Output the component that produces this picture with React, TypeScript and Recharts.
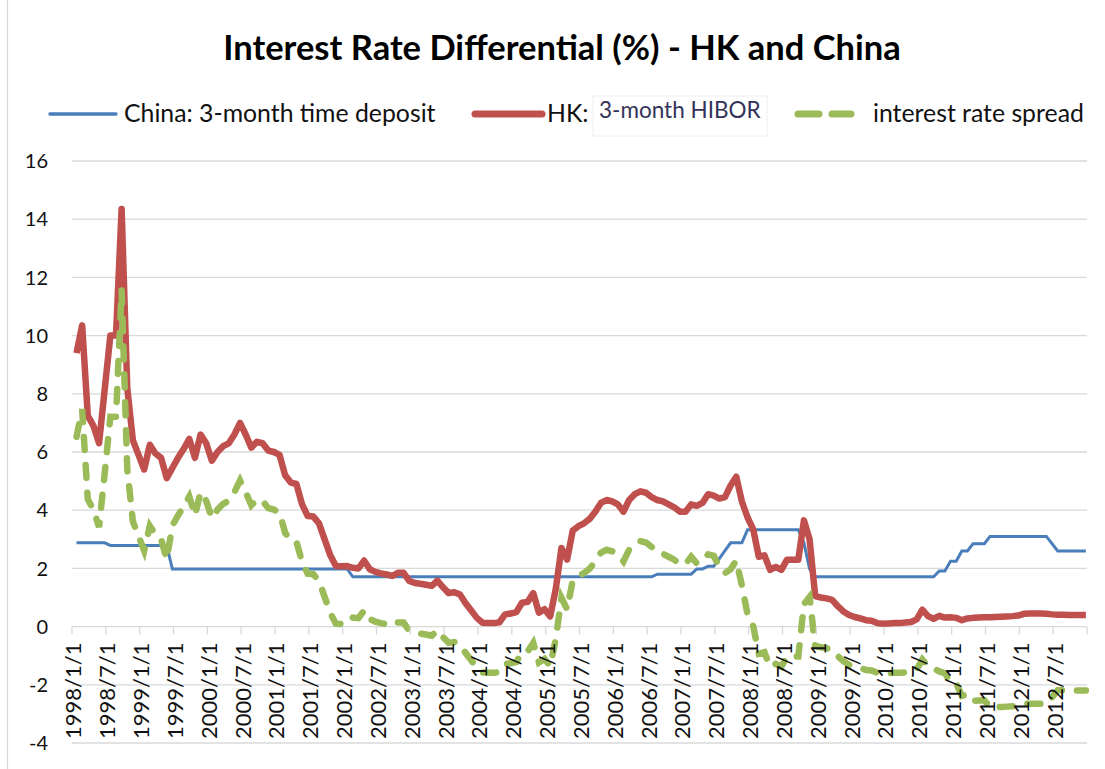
import { LineChart, Line, XAxis, YAxis, CartesianGrid } from "recharts"

const W = 1105
const H = 769
const MARGIN = { top: 161, right: 18, bottom: 0, left: 12 }
const X_AXIS_H = 26
const Y_AXIS_W = 60
const Y_MIN = -4
const Y_MAX = 16
const PLOT_H = H - MARGIN.top - MARGIN.bottom - X_AXIS_H
const FONT = "Lato, 'Open Sans', sans-serif"

const tickLabels = [
  "1998/1/1", "1998/7/1", "1999/1/1", "1999/7/1", "2000/1/1", "2000/7/1",
  "2001/1/1", "2001/7/1", "2002/1/1", "2002/7/1", "2003/1/1", "2003/7/1",
  "2004/1/1", "2004/7/1", "2005/1/1", "2005/7/1", "2006/1/1", "2006/7/1",
  "2007/1/1", "2007/7/1", "2008/1/1", "2008/7/1", "2009/1/1", "2009/7/1",
  "2010/1/1", "2010/7/1", "2011/1/1", "2011/7/1", "2012/1/1", "2012/7/1",
]

const yTicks = [-4, -2, 0, 2, 4, 6, 8, 10, 12, 14, 16]
const xTicks = [0, 6, 12, 18, 24, 30, 36, 42, 48, 54, 60, 66, 72, 78, 84, 90, 96, 102, 108, 114, 120, 126, 132, 138, 144, 150, 156, 162, 168, 174, 180]

// China: 3-month time deposit, monthly 1998/1 .. 2012/12
const china = [
  2.88, 2.88, 2.88, 2.88, 2.88, 2.88, 2.79, 2.79, 2.79, 2.79, 2.79, 2.79,
  2.79, 2.79, 2.79, 2.79, 2.79, 1.98, 1.98, 1.98, 1.98, 1.98, 1.98, 1.98,
  1.98, 1.98, 1.98, 1.98, 1.98, 1.98, 1.98, 1.98, 1.98, 1.98, 1.98, 1.98,
  1.98, 1.98, 1.98, 1.98, 1.98, 1.98, 1.98, 1.98, 1.98, 1.98, 1.98, 1.98,
  1.98, 1.71, 1.71, 1.71, 1.71, 1.71, 1.71, 1.71, 1.71, 1.71, 1.71, 1.71,
  1.71, 1.71, 1.71, 1.71, 1.71, 1.71, 1.71, 1.71, 1.71, 1.71, 1.71, 1.71,
  1.71, 1.71, 1.71, 1.71, 1.71, 1.71, 1.71, 1.71, 1.71, 1.71, 1.71, 1.71,
  1.71, 1.71, 1.71, 1.71, 1.71, 1.71, 1.71, 1.71, 1.71, 1.71, 1.71, 1.71,
  1.71, 1.71, 1.71, 1.71, 1.71, 1.71, 1.71, 1.8, 1.8, 1.8, 1.8, 1.8,
  1.8, 1.8, 1.98, 1.98, 2.07, 2.07, 2.34, 2.61, 2.88, 2.88, 2.88, 3.33,
  3.33, 3.33, 3.33, 3.33, 3.33, 3.33, 3.33, 3.33, 3.33, 2.88, 1.98, 1.71,
  1.71, 1.71, 1.71, 1.71, 1.71, 1.71, 1.71, 1.71, 1.71, 1.71, 1.71, 1.71,
  1.71, 1.71, 1.71, 1.71, 1.71, 1.71, 1.71, 1.71, 1.71, 1.91, 1.91, 2.25,
  2.25, 2.6, 2.6, 2.85, 2.85, 2.85, 3.1, 3.1, 3.1, 3.1, 3.1, 3.1,
  3.1, 3.1, 3.1, 3.1, 3.1, 2.85, 2.6, 2.6, 2.6, 2.6, 2.6, 2.6,
]

// HK: 3-month HIBOR
const hk = [
  9.4, 10.35, 7.25, 6.9, 6.3, 8.15, 10.0, 10.0, 14.35, 8.2, 6.4, 5.9,
  5.4, 6.25, 5.95, 5.8, 5.1, 5.45, 5.8, 6.1, 6.45, 5.8, 6.6, 6.3,
  5.7, 6.0, 6.2, 6.3, 6.6, 7.0, 6.6, 6.15, 6.35, 6.3, 6.05, 6.0,
  5.9, 5.2, 4.95, 4.9, 4.2, 3.8, 3.78, 3.55, 3.0, 2.45, 2.08, 2.07,
  2.08, 2.02, 2.0, 2.27, 1.97, 1.88, 1.83, 1.79, 1.74, 1.85, 1.85, 1.57,
  1.5, 1.47, 1.44, 1.4, 1.58, 1.35, 1.15, 1.18, 1.1, 0.8, 0.55, 0.3,
  0.13, 0.12, 0.12, 0.15, 0.42, 0.45, 0.5, 0.82, 0.85, 1.15, 0.48, 0.6,
  0.35, 1.3, 2.7, 2.3, 3.3, 3.45, 3.55, 3.7, 3.95, 4.25, 4.35, 4.3,
  4.2, 3.95, 4.35, 4.55, 4.65, 4.6, 4.45, 4.35, 4.3, 4.2, 4.1, 3.95,
  3.95, 4.2, 4.15, 4.25, 4.55, 4.5, 4.4, 4.45, 4.85, 5.15, 4.3, 3.75,
  3.35, 2.4, 2.45, 1.95, 2.05, 1.95, 2.3, 2.3, 2.3, 3.65, 3.0, 1.05,
  1.0, 0.97, 0.92, 0.7, 0.52, 0.4, 0.33, 0.28, 0.22, 0.2, 0.12, 0.1,
  0.11, 0.12, 0.12, 0.14, 0.16, 0.25, 0.58, 0.36, 0.27, 0.37, 0.31, 0.32,
  0.3, 0.22, 0.28, 0.3, 0.31, 0.32, 0.32, 0.33, 0.34, 0.35, 0.36, 0.38,
  0.44, 0.45, 0.45, 0.45, 0.44, 0.42, 0.41, 0.41, 0.4, 0.4, 0.4, 0.4,
]

// interest rate spread (HIBOR minus China deposit rate)
const spread = [
  6.52, 7.47, 4.37, 4.02, 3.42, 5.27, 7.21, 7.21, 11.56, 5.41, 3.61, 3.11,
  2.61, 3.46, 3.16, 3.01, 2.31, 3.47, 3.82, 4.12, 4.47, 3.82, 4.62, 4.32,
  3.72, 4.02, 4.22, 4.32, 4.62, 5.02, 4.62, 4.17, 4.37, 4.32, 4.07, 4.02,
  3.92, 3.22, 2.97, 2.92, 2.22, 1.82, 1.8, 1.57, 1.02, 0.47, 0.1, 0.09,
  0.1, 0.31, 0.29, 0.56, 0.26, 0.17, 0.12, 0.08, 0.03, 0.14, 0.14, -0.14,
  -0.21, -0.24, -0.27, -0.31, -0.13, -0.36, -0.56, -0.53, -0.61, -0.91, -1.16, -1.41,
  -1.58, -1.59, -1.59, -1.56, -1.29, -1.26, -1.21, -0.89, -0.86, -0.56, -1.23, -1.11,
  -1.36, -0.41, 0.99, 0.59, 1.59, 1.74, 1.84, 1.99, 2.24, 2.54, 2.64, 2.59,
  2.49, 2.24, 2.64, 2.84, 2.94, 2.89, 2.74, 2.55, 2.5, 2.4, 2.3, 2.15,
  2.15, 2.4, 2.17, 2.27, 2.48, 2.43, 2.06, 1.84, 1.97, 2.27, 1.42, 0.42,
  0.02, -0.93, -0.88, -1.38, -1.28, -1.38, -1.03, -1.03, -1.03, 0.77, 1.02, -0.66,
  -0.71, -0.74, -0.79, -1.01, -1.19, -1.31, -1.38, -1.43, -1.49, -1.51, -1.59, -1.61,
  -1.6, -1.59, -1.59, -1.57, -1.55, -1.46, -1.13, -1.35, -1.44, -1.54, -1.6, -1.93,
  -1.95, -2.38, -2.32, -2.55, -2.54, -2.53, -2.78, -2.77, -2.76, -2.75, -2.74, -2.72,
  -2.66, -2.65, -2.65, -2.65, -2.66, -2.43, -2.19, -2.19, -2.2, -2.2, -2.2, -2.2,
]

// points sit a little right of each month slot start, as in the source chart
const data = china.map((c, i) => ({ x: i + 0.8, china: c, hk: hk[i], spread: spread[i] }))

function MonthTick(props: any) {
  const { x, y, payload } = props
  const zeroY = y - (PLOT_H * (0 - Y_MIN)) / (Y_MAX - Y_MIN)
  const label = tickLabels[Math.round(payload.value / 6)]
  const lx = x + 9.5
  const ly = zeroY + 16
  return (
    <g>
      <line x1={x} y1={zeroY} x2={x} y2={zeroY + 8} stroke="#d9d9d9" strokeWidth={1.3} />
      {label && (
        <text x={lx} y={ly} transform={`rotate(-90 ${lx} ${ly})`} textAnchor="end" fontSize={22} fill="#111" fontFamily={FONT}>
          {label}
        </text>
      )}
    </g>
  )
}

export default function App() {
  return (
    <div style={{ position: "absolute", left: 0, top: 0, width: W, height: H, background: "#fff", fontFamily: FONT }}>
      <LineChart width={W} height={H} data={data} margin={MARGIN}>
        <CartesianGrid vertical={false} stroke="#d9d9d9" strokeWidth={1.3} />
        <XAxis
          dataKey="x"
          type="number"
          domain={[0, 180]}
          ticks={xTicks}
          interval={0}
          axisLine={false}
          tickLine={false}
          tickSize={0}
          tickMargin={0}
          height={X_AXIS_H}
          tick={(p: any) => <MonthTick {...p} />}
        />
        <YAxis
          type="number"
          domain={[Y_MIN, Y_MAX]}
          ticks={yTicks}
          interval={0}
          width={Y_AXIS_W}
          axisLine={false}
          tickLine={false}
          tickSize={0}
          tickMargin={24}
          tick={{ fontSize: 20, fill: "#111", fontFamily: FONT }}
        />
        <Line dataKey="china" type="linear" stroke="#4a7ebb" strokeWidth={3} dot={false} isAnimationActive={false} />
        <Line dataKey="hk" type="linear" stroke="#c0504d" strokeWidth={6.5} strokeLinejoin="round" dot={false} isAnimationActive={false} />
        <Line dataKey="spread" type="linear" stroke="#9bbb59" strokeWidth={6.5} strokeDasharray="13 15" strokeLinecap="round" dot={false} isAnimationActive={false} />
      </LineChart>
      <svg width={W} height={H} style={{ position: "absolute", left: 0, top: 0, pointerEvents: "none" }}>
        <line x1={7.5} y1={0} x2={7.5} y2={H} stroke="#d9d9d9" strokeWidth={1.3} />
        <text x={562} y={60} textAnchor="middle" fontSize={34.5} fontWeight="bold" fill="#000" fontFamily={FONT}>
          Interest Rate Differential (%) - HK and China
        </text>
        <line x1={50} y1={114} x2={116} y2={114} stroke="#4a7ebb" strokeWidth={3.5} strokeLinecap="round" />
        <text x={124} y={122} fontSize={24.8} fill="#111" fontFamily={FONT}>China: 3-month time deposit</text>
        <line x1={475} y1={114} x2={542} y2={114} stroke="#c0504d" strokeWidth={7} strokeLinecap="round" />
        <text x={547} y={122} fontSize={24.8} fill="#111" fontFamily={FONT}>HK:</text>
        <rect x={593} y={96} width={174} height={40} fill="#fff" stroke="#f0f0f0" />
        <text x={599} y={118} fontSize={22.5} fill="#33335a" fontFamily={FONT}>3-month HIBOR</text>
        <line x1={798} y1={114} x2={819} y2={114} stroke="#9bbb59" strokeWidth={7} strokeLinecap="round" />
        <line x1={832} y1={114} x2={851} y2={114} stroke="#9bbb59" strokeWidth={7} strokeLinecap="round" />
        <text x={873} y={122} fontSize={24.8} fill="#111" fontFamily={FONT}>interest rate spread</text>
      </svg>
    </div>
  )
}
